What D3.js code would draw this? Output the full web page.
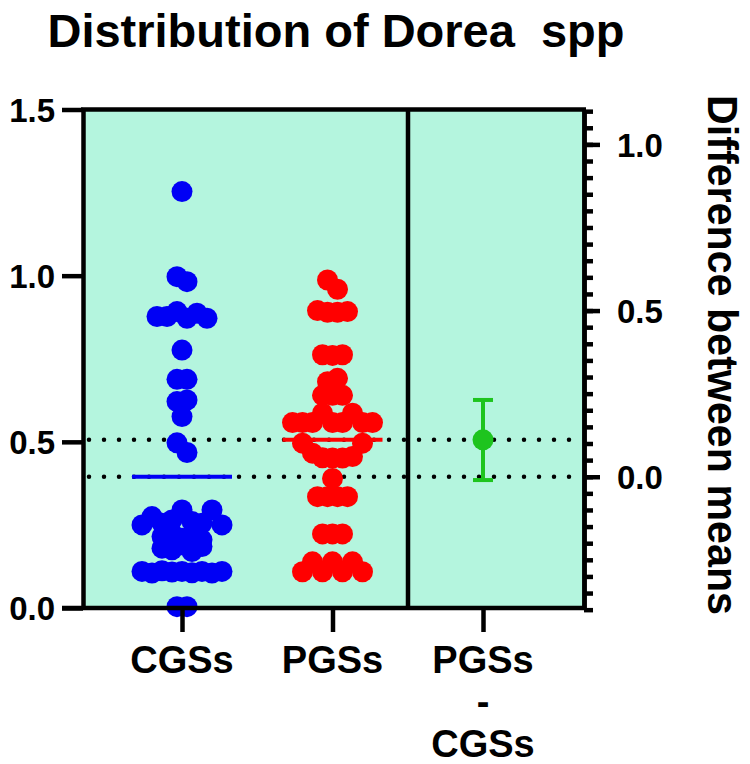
<!DOCTYPE html>
<html>
<head>
<meta charset="utf-8">
<script src="https://cdn.jsdelivr.net/npm/d3@7"></script>
<style>
  body { margin: 0; background: #fff; }
  text { font-family: "Liberation Sans", Arial, sans-serif; font-weight: bold; }
</style>
</head>
<body>
<div id="chart"></div>
<script>
// groups shown on the x axis
const categories = ["CGSs", "PGSs", "PGSs - CGSs"];

// values read row by row, left to right inside each row
const cgsValues = [
  1.253,
  0.997, 0.982,
  0.877, 0.877, 0.892, 0.872, 0.887, 0.872,
  0.776,
  0.688, 0.688,
  0.621, 0.626,
  0.576,
  0.497, 0.468,
  0.25, 0.275, 0.255, 0.265, 0.295, 0.26, 0.255, 0.295, 0.25,
  0.215, 0.225, 0.21, 0.22, 0.205,
  0.18, 0.175, 0.19, 0.17, 0.185,
  0.11, 0.105, 0.112, 0.108, 0.11, 0.106, 0.11, 0.105, 0.11,
  0.004, 0.004
];

const pgsValues = [
  0.987, 0.959,
  0.895, 0.89, 0.89, 0.892,
  0.762, 0.76, 0.762,
  0.681, 0.691,
  0.64, 0.64, 0.64,
  0.558, 0.558, 0.558, 0.586, 0.558, 0.558, 0.586, 0.558, 0.558,
  0.496, 0.466, 0.452, 0.451, 0.451, 0.456, 0.496,
  0.39,
  0.335, 0.335, 0.335, 0.335,
  0.223, 0.223, 0.223,
  0.109, 0.139, 0.109, 0.139, 0.109, 0.139, 0.109
];

// group means and the estimated difference (PGSs - CGSs) with its interval
const groupMeans = [0.395, 0.506];
const meanDiff = 0.111;
const diffInterval = [-0.01, 0.231];

const leftTicks = [0, 0.5, 1.0, 1.5];
const rightTicks = [0, 0.5, 1.0];

const config = {
  width: 750,
  height: 764,
  plotLeft: 83,
  plotRight: 584,
  plotTop: 109.5,
  plotBottom: 608,
  divider: 408,
  radius: 10.5,
  spread: 10,
  bin: 0.05,
  mint: "#b4f5de"
};

const svg = d3.select("#chart")
  .append("svg")
  .attr("width", config.width)
  .attr("height", config.height);

const y = d3.scaleLinear()
  .domain([0, 1.5])
  .range([config.plotBottom, config.plotTop]);

// right axis is the left one shifted so that 0 sits on the CGSs mean
const yRight = d3.scaleLinear()
  .domain([0 - groupMeans[0], 1.5 - groupMeans[0]])
  .range([config.plotBottom, config.plotTop]);

const x = d3.scalePoint()
  .domain(categories)
  .range([182, 483]);

// background
svg.append("rect")
  .attr("x", config.plotLeft)
  .attr("y", config.plotTop)
  .attr("width", config.plotRight - config.plotLeft)
  .attr("height", config.plotBottom - config.plotTop)
  .attr("fill", config.mint);

// dotted reference lines at both means
svg.selectAll(".ref")
  .data(groupMeans)
  .enter()
  .append("line")
  .attr("x1", config.plotLeft + 6)
  .attr("x2", config.plotRight - 3)
  .attr("y1", d => y(d))
  .attr("y2", d => y(d))
  .style("stroke", "#000")
  .style("stroke-width", 4.5)
  .style("stroke-linecap", "round")
  .style("stroke-dasharray", "0,15");

// lay out a scatter column: values in the same bin form a row, spread evenly
function layout(values) {
  const rows = d3.group(values.map((v, i) => ({ v, i })), d => Math.floor(d.v / config.bin));
  const out = [];
  rows.forEach(row => {
    row.forEach((d, k) => {
      out.push({ v: d.v, off: (k - (row.length - 1) / 2) * config.spread });
    });
  });
  return out;
}

const groups = [
  { name: categories[0], values: cgsValues, color: "#0000f5", mean: groupMeans[0] },
  { name: categories[1], values: pgsValues, color: "#ff0000", mean: groupMeans[1] }
];

groups.forEach(g => {
  svg.append("g")
    .selectAll("circle")
    .data(layout(g.values))
    .enter()
    .append("circle")
    .attr("cx", d => x(g.name) + d.off)
    .attr("cy", d => y(d.v))
    .attr("r", config.radius)
    .style("fill", g.color);

  svg.append("line")
    .attr("x1", x(g.name) - 50)
    .attr("x2", x(g.name) + 50)
    .attr("y1", y(g.mean))
    .attr("y2", y(g.mean))
    .style("stroke", g.color)
    .style("stroke-width", 4);
});

// estimation plot
const green = "#1ec41e";
const dx = x(categories[2]);
svg.append("line")
  .attr("x1", dx).attr("x2", dx)
  .attr("y1", yRight(diffInterval[0]))
  .attr("y2", yRight(diffInterval[1]))
  .style("stroke", green)
  .style("stroke-width", 4);
diffInterval.forEach(v => {
  svg.append("line")
    .attr("x1", dx - 10).attr("x2", dx + 10)
    .attr("y1", yRight(v)).attr("y2", yRight(v))
    .style("stroke", green)
    .style("stroke-width", 4);
});
svg.append("circle")
  .attr("cx", dx)
  .attr("cy", yRight(meanDiff))
  .attr("r", config.radius)
  .style("fill", green);

// frame
const frame = svg.append("g")
  .style("stroke", "#000")
  .style("stroke-width", 4.5)
  .style("fill", "none");
frame.append("line")
  .attr("x1", config.plotLeft - 2).attr("x2", config.plotRight + 2)
  .attr("y1", config.plotTop).attr("y2", config.plotTop);
frame.append("line")
  .attr("x1", config.divider).attr("x2", config.divider)
  .attr("y1", config.plotTop).attr("y2", config.plotBottom);

// left axis
svg.append("g")
  .attr("transform", `translate(${config.plotLeft},0)`)
  .call(d3.axisLeft(y).tickValues(leftTicks).tickSize(21).tickSizeOuter(0).tickPadding(7).tickFormat(d3.format(".1f")));

// bottom axis
const bottomAxis = svg.append("g")
  .attr("transform", `translate(0,${config.plotBottom})`)
  .call(d3.axisBottom(x).tickSize(24).tickSizeOuter(0).tickFormat(""));
bottomAxis.select(".domain")
  .attr("d", `M${config.plotLeft - 21},0H${config.plotRight + 2}`);

// right axis: minor ticks every 0.05, labelled ones every 0.5
const minorTicks = d3.range(-8, 23).map(i => i * 0.05)
  .filter(v => yRight(v) >= config.plotTop && yRight(v) <= config.plotBottom + 2.5);
svg.append("g")
  .attr("transform", `translate(${config.plotRight},0)`)
  .call(d3.axisRight(yRight).tickValues(minorTicks).tickSize(9).tickSizeOuter(0).tickFormat(""));
svg.append("g")
  .attr("transform", `translate(${config.plotRight},0)`)
  .call(d3.axisRight(yRight).tickValues(rightTicks).tickSize(16).tickSizeOuter(0).tickPadding(17).tickFormat(d3.format(".1f")));

svg.selectAll(".domain, .tick line")
  .style("stroke", "#000")
  .style("stroke-width", 4.5);
svg.selectAll(".tick text")
  .style("font-family", "'Liberation Sans', Arial, sans-serif")
  .style("font-weight", "bold")
  .style("font-size", "33px")
  .attr("dy", "0.36em")
  .attr("fill", "#000");

// x labels (last one on three lines)
const xLabels = svg.append("g");
categories.forEach(c => {
  const parts = c.split(" ");
  parts.forEach((p, i) => {
    xLabels.append("text")
      .attr("x", x(c))
      .attr("y", 673 + i * 42)
      .attr("text-anchor", "middle")
      .style("font-size", "38px")
      .text(p);
  });
});

// title
svg.append("text")
  .attr("x", 336)
  .attr("y", 47)
  .attr("text-anchor", "middle")
  .style("font-size", "47px")
  .text("Distribution of Dorea\u00a0\u00a0spp");

// right axis title
svg.append("text")
  .attr("transform", "translate(708,355)rotate(90)")
  .attr("text-anchor", "middle")
  .attr("textLength", 520)
  .attr("lengthAdjust", "spacingAndGlyphs")
  .style("font-size", "42px")
  .text("Difference between means");
</script>
</body>
</html>
